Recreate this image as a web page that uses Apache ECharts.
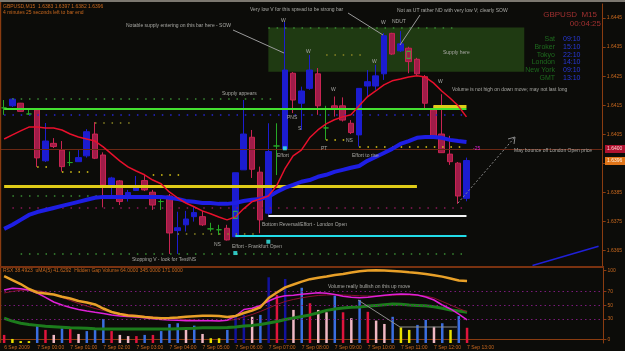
<!DOCTYPE html>
<html>
<head>
<meta charset="utf-8">
<title>GBPUSD M15</title>
<script src="https://cdn.jsdelivr.net/npm/echarts@6.0.0/dist/echarts.min.js"></script>
<style>
    html, body { margin: 0; padding: 0; background: #0c0c09; }
    #main { width: 625px; height: 351px; }
</style>
</head>
<body>
<div id="main"></div>
<script>
// time axis: one label every 4 bars (M15), 57 bars + empty right margin
var hourLabels = ['6 Sep 2009', '7 Sep 00:00', '7 Sep 01:00', '7 Sep 02:00', '7 Sep 03:00', '7 Sep 04:00', '7 Sep 05:00',
    '7 Sep 06:00', '7 Sep 07:00', '7 Sep 08:00', '7 Sep 09:00', '7 Sep 10:00', '7 Sep 11:00', '7 Sep 12:00', '7 Sep 13:00'];
var slotCount = 73;

// price ticks on the right axis
var priceTicks = [1.6365, 1.6375, 1.6385, 1.6395, 1.6405, 1.6415, 1.6425, 1.6435, 1.6445];
var oscTicks = [0, 30, 50, 70, 100];

// candles
var opens = [1.64141, 1.64148, 1.64157, 1.6412, 1.64134, 1.63959, 1.64019, 1.63996, 1.63953, 1.63956,
    1.63976, 1.64051, 1.63979, 1.6387, 1.6389, 1.6383, 1.63857, 1.63891, 1.63851, 1.63819,
    1.63838, 1.63719, 1.63739, 1.63767, 1.63767, 1.63725, 1.63722, 1.63727, 1.63698, 1.63928,
    1.6404, 1.6392, 1.63779, 1.6401, 1.63999, 1.6426, 1.64157, 1.64208, 1.64258, 1.64072,
    1.64148, 1.64148, 1.64088, 1.64048, 1.64216, 1.64216, 1.64258, 1.64397, 1.64337, 1.64346,
    1.64308, 1.64248, 1.64134, 1.64051, 1.63982, 1.63951, 1.6383];
var closes = [1.64141, 1.64171, 1.64129, 1.6412, 1.63969, 1.64027, 1.64008, 1.63939, 1.63953, 1.6397,
    1.64059, 1.63968, 1.63876, 1.639, 1.63819, 1.6385, 1.6387, 1.63859, 1.63807, 1.63819,
    1.63711, 1.63729, 1.63759, 1.63781, 1.63739, 1.63725, 1.63722, 1.63687, 1.63918, 1.64051,
    1.6393, 1.63756, 1.63991, 1.6401, 1.64271, 1.64168, 1.64199, 1.64271, 1.64148, 1.64072,
    1.64136, 1.64099, 1.64056, 1.64208, 1.64231, 1.64251, 1.64389, 1.64326, 1.64361, 1.643,
    1.64258, 1.64157, 1.64042, 1.63987, 1.63956, 1.63838, 1.6396];
var lows = [1.64117, 1.64144, 1.64127, 1.64117, 1.63938, 1.63955, 1.64003, 1.63922, 1.63941, 1.63955,
    1.6397, 1.63965, 1.63799, 1.63842, 1.63807, 1.63819, 1.63855, 1.63855, 1.6379, 1.6379,
    1.63639, 1.63639, 1.63716, 1.6375, 1.63735, 1.63716, 1.63704, 1.63685, 1.63697, 1.63928,
    1.639, 1.6371, 1.63773, 1.6391, 1.63996, 1.64123, 1.64065, 1.64203, 1.64117, 1.64031,
    1.64111, 1.64094, 1.64051, 1.64008, 1.6418, 1.64203, 1.64237, 1.64323, 1.64333, 1.6426,
    1.64254, 1.6414, 1.64041, 1.63986, 1.63945, 1.63811, 1.6382];
var highs = [1.64168, 1.64175, 1.64158, 1.6414, 1.64137, 1.64089, 1.64037, 1.64027, 1.63991, 1.63996,
    1.64068, 1.64092, 1.63988, 1.63904, 1.63893, 1.63859, 1.63907, 1.6391, 1.63859, 1.63838,
    1.63845, 1.63784, 1.63787, 1.63802, 1.63787, 1.63746, 1.63739, 1.63739, 1.63918, 1.64168,
    1.64065, 1.63939, 1.64088, 1.64088, 1.64436, 1.64264, 1.64214, 1.64323, 1.64278, 1.64148,
    1.6418, 1.64177, 1.64099, 1.64208, 1.64271, 1.64289, 1.64398, 1.64399, 1.64405, 1.64351,
    1.64313, 1.64254, 1.64148, 1.64188, 1.64045, 1.63955, 1.6397];

// moving averages on price
var maRed = [1.64034, 1.64048, 1.64062, 1.64075, 1.64075, 1.64072, 1.64072, 1.64065, 1.64051, 1.64041,
    1.64034, 1.64027, 1.64007, 1.63983, 1.63959, 1.63938, 1.63924, 1.63911, 1.63893, 1.6388,
    1.63852, 1.63832, 1.63814, 1.63801, 1.63787, 1.63777, 1.63766, 1.63756, 1.63766, 1.63794,
    1.63818, 1.63828, 1.63838, 1.63873, 1.63931, 1.63976, 1.63996, 1.64038, 1.64065, 1.64086,
    1.641, 1.6411, 1.64117, 1.64148, 1.64179, 1.64199, 1.6422, 1.64234, 1.6424, 1.64247,
    1.64251, 1.64247, 1.64227, 1.64199, 1.64175, 1.64148, 1.6411];
var maBlue = [1.63725, 1.63739, 1.63756, 1.63773, 1.63783, 1.6379, 1.63797, 1.63804, 1.63811, 1.63818,
    1.63825, 1.63832, 1.63835, 1.63835, 1.63835, 1.63835, 1.63835, 1.63835, 1.63835, 1.63835,
    1.63832, 1.63828, 1.63821, 1.63818, 1.63814, 1.63814, 1.63811, 1.63811, 1.63814, 1.63821,
    1.63825, 1.63828, 1.63835, 1.63852, 1.63866, 1.63876, 1.63887, 1.63893, 1.63904, 1.63911,
    1.63921, 1.63928, 1.63935, 1.63941, 1.63959, 1.63972, 1.63986, 1.64, 1.64017, 1.64027,
    1.64038, 1.64041, 1.64041, 1.64038, 1.64031, 1.64027, 1.64024];

// horizontal levels: [price, from bar, to bar, kind]
var dottedLevels = [
    [1.64417, 32, 55, 'green'], [1.64323, 39, 44, 'olive'], [1.64172, 1, 33, 'green'],
    [1.64119, 0, 56, 'blue'], [1.6409, 11, 16, 'olive'], [1.63939, 4, 6, 'yellow'],
    [1.6392, 7, 11, 'yellow'], [1.63911, 18, 22, 'yellow'], [1.64031, 39, 42, 'yellow'],
    [1.64008, 43, 56, 'yellow'], [1.63838, 1, 19, 'green'], [1.63799, 1, 56, 'purple'],
    [1.6371, 21, 31, 'olive'], [1.63639, 2, 56, 'green']
];
var solidLevels = [
    [1.64139, 0, 56, 'lime'], [1.6387, 0, 50, 'yellow'], [1.64148, 52, 56, 'yellow'],
    [1.63771, 32, 56, 'white'], [1.637, 28, 56, 'cyan']
];
var londonOpen = 1.6400;
var trendLine = [[64, 1.63599], [72, 1.63665]];
var supplyZone = [[32, 1.64417], [63, 1.64265]];
var effortMarks = [[34, 1.64002], [32, 1.63681], [28, 1.63642]];
var boxMarks = [[28, 1.63773], [49, 1.64323]];

// lower window: volume + oscillators
var volumes = [34, 17, 8, 8, 71, 55, 34, 62, 59, 38,
    50, 55, 101, 50, 34, 29, 29, 34, 34, 50,
    80, 83, 55, 73, 38, 20, 20, 55, 110, 118,
    110, 118, 276, 202, 269, 139, 232, 167, 139, 129,
    199, 129, 104, 181, 131, 94, 80, 110, 66, 55,
    76, 97, 68, 83, 55, 113, 64];
var volTypes = ['r', 'y', 'y', 'y', 'b', 'r', 'p', 'b', 'r', 'p',
    'b', 'b', 'b', 'r', 'p', 'p', 'r', 'b', 'r', 'b',
    'b', 'b', 'p', 'b', 'p', 'y', 'y', 'b', 'n', 'n',
    'p', 'b', 'n', 'r', 'n', 'p', 'b', 'r', 'p', 'p',
    'b', 'r', 'p', 'b', 'r', 'p', 'p', 'b', 'y', 'y',
    'b', 'b', 'p', 'b', 'y', 'b', 'r'];
var volAvg = [104, 92, 83, 78, 74, 70, 68, 66, 64, 63,
    62, 60, 59, 59, 59, 59, 59, 59, 59, 59,
    59, 60, 61, 62, 64, 64, 64, 65, 67, 71,
    74, 78, 84, 90, 99, 105, 111, 118, 127, 137,
    143, 147, 150, 151, 155, 158, 161, 164, 163, 160,
    158, 156, 152, 146, 139, 134, 129];
var goldLine = [92.3, 86.5, 80.7, 73.5, 68.4, 67, 65.5, 62.3, 59.7, 56.1,
    53.9, 51, 45.2, 40.1, 37.2, 35.1, 34.3, 32.9, 31.9, 31,
    31.4, 32.2, 33.3, 34.1, 34.8, 34.6, 34.3, 32.9, 34.3, 38.7,
    42.3, 47, 60.4, 68.4, 75.9, 80, 84.1, 87.7, 89.7, 91.7,
    93.8, 95.2, 97.4, 99.3, 100.1, 100.6, 100.3, 99.6, 98.8, 97.7,
    96.7, 95.2, 93.5, 91.4, 88.7, 85.8, 85.1];
var rsx = [72, 74.5, 73.8, 72, 67.7, 61.2, 54.6, 50.3, 46.7, 43.8,
    41.6, 39.7, 38, 35.8, 34.3, 33.5, 32.9, 31.7, 30.3, 29.3,
    28.6, 28, 27.5, 27.5, 27.5, 27.4, 27.1, 28.3, 34.3, 43.8,
    45.5, 49.6, 56.1, 61.2, 63.6, 64.5, 65.8, 67, 68, 67.2,
    65.5, 63, 61.4, 60.9, 61.4, 63, 64.5, 65.5, 66.2, 65.7,
    64.8, 61.9, 57.5, 50.3, 44.5, 37.2, 28.6];
var rsxMa = [67.7, 69.9, 71.6, 72, 71.3, 69.1, 65.5, 61.2, 56.8, 52.5,
    48.8, 45.2, 42.3, 40.1, 38, 36.5, 35.1, 33.9, 32.9, 31.7,
    30.7, 30, 29.3, 28.6, 28.1, 27.8, 27.7, 27.8, 29.3, 32.9,
    36.5, 40.9, 45.9, 51, 55.4, 58.3, 60.7, 62.6, 64.1, 64.8,
    65.1, 64.8, 64.3, 63.6, 63.3, 63.3, 63.6, 64.3, 64.8, 64.8,
    64.3, 63.3, 60.4, 55.4, 50.3, 45.2, 40.6];
var oscLevels = [70, 50, 30];

var sessions = [['Sat', '09:10'], ['Broker', '15:10'], ['Tokyo', '22:10'], ['London', '14:10'], ['New York', '09:10'], ['GMT', '13:10']];

// ---------------------------------------------------------------
var FONT = '"Liberation Sans", Arial, sans-serif';
var ORANGE = '#c8681e';
var AXIS = '#8a3c10';
var NOTE = '#a8a8a4';

var cats = [];
for (var i = 0; i < slotCount; i++) cats.push(String(i));

var candleData = opens.map(function (o, k) { return [o, closes[k], lows[k], highs[k]]; });

var levelStyle = {
    green: '#3a8c34', olive: '#8c8624', yellow: '#e0cc18', blue: '#2626d0', purple: '#8a1858',
    lime: '#44e030', white: '#f4f4f4', cyan: '#22dce8'
};
var levelData = [];
dottedLevels.forEach(function (l) {
    levelData.push([{coord: [l[1], l[0]], lineStyle: {color: levelStyle[l[3]], width: 1.5, type: [1.5, 6.8]}},
        {coord: [l[2], l[0]]}]);
});
solidLevels.forEach(function (l) {
    var w = l[3] === 'yellow' ? 3 : 2;
    levelData.push([{coord: [l[1], l[0]], lineStyle: {color: levelStyle[l[3]], width: w, type: 'solid'}},
        {coord: [l[2], l[0]]}]);
});
levelData.push({yAxis: londonOpen, lineStyle: {color: '#6a2814', width: 1, type: 'solid'}});
levelData.push([{coord: trendLine[0], lineStyle: {color: '#2020d8', width: 1.5, type: 'solid'}}, {coord: trendLine[1]}]);

var volColors = {y: '#e8e000', b: '#3a6ee0', n: '#12129c', r: '#e0143c', p: '#f0b8c4'};

// text and drawn notes
var graphics = [];
function txt(t, x, y, color, size, align, z) {
    graphics.push({
        type: 'text', x: x, y: y, z: z || 100, silent: true,
        style: {text: t, fill: color, font: size + 'px ' + FONT, align: align || 'left', verticalAlign: 'middle',
            textAlign: align || 'left', textVerticalAlign: 'middle'}
    });
}
function seg(pts, color, dash) {
    graphics.push({type: 'polyline', z: 100, silent: true, shape: {points: pts},
        style: {stroke: color, lineWidth: 1, fill: null, lineDash: dash || null}});
}
// frame
graphics.push({type: 'rect', z: 99, silent: true, shape: {x: 0, y: 0, width: 625, height: 2}, style: {fill: '#7c7870'}});
graphics.push({type: 'rect', z: 99, silent: true, shape: {x: 0, y: 2, width: 1.2, height: 341}, style: {fill: AXIS}});
graphics.push({type: 'rect', z: 99, silent: true, shape: {x: 0, y: 266, width: 604, height: 2}, style: {fill: '#7a3210'}});

txt('GBPUSD,M15  1.6383 1.6397 1.6382 1.6396', 3, 7, ORANGE, 5);
txt('4 minutes 25 seconds left to bar end', 3, 13, ORANGE, 5);
txt('GBPUSD  M15', 597, 15, '#a03030', 8, 'right');
txt('00:04:25', 601, 24, '#a03030', 8, 'right');
sessions.forEach(function (s, k) {
    txt(s[0], 555, 39 + k * 7.8, '#1e6a1e', 7, 'right');
    txt(s[1], 563, 39 + k * 7.8, '#2838d8', 7, 'left');
});

var notes = [
    ['Notable supply entering on this bar here - SOW', 126, 26],
    ['Very low V for this spread to be strong bar', 250, 10],
    ['Not as UT rather ND with very low V; clearly SOW', 397, 11],
    ['Supply here', 443, 53],
    ['Volume is not high on down move; may not last long', 452, 90],
    ['Supply appears', 222, 94],
    ['PNS', 287, 118], ['S', 298, 129], ['Effort', 277, 156], ['PT', 321, 149], ['NS', 346, 141],
    ['Effort to rise', 352, 156],
    ['Bottom Reversal/Effort - London Open', 262, 225],
    ['Effort - Frankfurt Open', 232, 247],
    ['NS', 214, 245],
    ['Stopping V - look for Test/NS', 132, 260],
    ['May bounce off London Open price', 514, 151],
    ['W', 281, 21], ['W', 306, 52], ['W', 331, 90], ['W', 372, 62], ['W', 381, 23], ['NDUT', 392, 22], ['W', 438, 82],
    ['Volume really bullish on this up move', 328, 287]
];
notes.forEach(function (n) { txt(n[0], n[1], n[2], NOTE, 5); });
txt('-25', 473, 149, '#e020d0', 5);
txt('RSX 38.4923  uMA(5) 41.6292  Hidden Gap Volume 64.0000 345.0000 171.0000', 3, 271, ORANGE, 5);

seg([[233, 30], [284, 53]], '#9a9a9a');
seg([[348, 13], [383, 35]], '#9a9a9a');
seg([[420, 15], [400, 45]], '#9a9a9a');
seg([[458, 203], [515, 137]], '#8a8a8a', [2, 2]);
seg([[508, 139], [515, 137], [514, 144]], '#8a8a8a');
seg([[358, 300], [400, 327], [457, 327]], '#8c8c8c');

// price tags
graphics.push({type: 'rect', z: 101, silent: true, shape: {x: 605, y: 145, width: 20, height: 8}, style: {fill: '#b01230'}});
txt('1.6400', 607, 149, '#ffd4d4', 5, 'left', 102);
graphics.push({type: 'rect', z: 101, silent: true, shape: {x: 605, y: 157, width: 20, height: 8}, style: {fill: '#e07418'}});
txt('1.6396', 607, 161, '#fff0e0', 5, 'left', 102);

var chart = echarts.init(document.getElementById('main'));
chart.setOption({
    animation: false,
    backgroundColor: '#0c0c09',
    grid: [
        {left: -2.45, width: 605.9, top: 4, height: 263},
        {left: -2.45, width: 605.9, top: 268, height: 75}
    ],
    xAxis: [
        {type: 'category', gridIndex: 0, data: cats, boundaryGap: true,
            axisLine: {show: false}, axisTick: {show: false}, axisLabel: {show: false}, splitLine: {show: false}},
        {type: 'category', gridIndex: 1, data: cats, boundaryGap: true,
            axisLine: {show: true, lineStyle: {color: AXIS, width: 1}},
            axisTick: {show: true, alignWithLabel: true, length: 2, lineStyle: {color: AXIS},
                interval: function (idx) { return idx % 4 === 0 && idx / 4 < hourLabels.length; }},
            axisLabel: {color: ORANGE, fontSize: 5, fontFamily: FONT, align: 'left', margin: 2,
                interval: function (idx) { return idx % 4 === 0 && idx / 4 < hourLabels.length; },
                formatter: function (v, idx) { return hourLabels[idx / 4] || ''; }},
            splitLine: {show: false}}
    ],
    yAxis: [
        {type: 'value', gridIndex: 0, position: 'right', min: 1.63594, max: 1.64498,
            axisLine: {show: true, lineStyle: {color: AXIS}},
            axisTick: {show: true, length: 3, customValues: priceTicks, lineStyle: {color: AXIS}},
            axisLabel: {customValues: priceTicks, color: ORANGE, fontSize: 5, fontFamily: FONT, margin: 4,
                formatter: function (v) { return v.toFixed(4); }},
            splitLine: {show: false}},
        {type: 'value', gridIndex: 1, position: 'right', min: -4.8, max: 103.9,
            axisLine: {show: true, lineStyle: {color: AXIS}},
            axisTick: {show: true, length: 3, customValues: oscTicks, lineStyle: {color: AXIS}},
            axisLabel: {customValues: oscTicks, color: ORANGE, fontSize: 5, fontFamily: FONT, margin: 4},
            splitLine: {show: false}},
        {type: 'value', gridIndex: 1, min: 0, max: 315, show: false}
    ],
    graphic: {elements: graphics},
    series: [
        {type: 'line', xAxisIndex: 0, yAxisIndex: 0, data: [], z: 0, silent: true,
            markArea: {silent: true, itemStyle: {color: '#1f3a12'},
                data: [[{coord: supplyZone[0]}, {coord: supplyZone[1]}]]}},
        {type: 'candlestick', xAxisIndex: 0, yAxisIndex: 0, data: candleData, barWidth: 6, z: 3,
            itemStyle: {color: '#1c1cd0', color0: '#a01c48', borderColor: '#1c1cd0', borderColor0: '#c82452',
                borderColorDoji: '#26a826', borderWidth: 1}},
        {type: 'line', xAxisIndex: 0, yAxisIndex: 0, data: [], z: 4, silent: true,
            markLine: {silent: true, symbol: ['none', 'none'], label: {show: false}, data: levelData}},
        {type: 'line', xAxisIndex: 0, yAxisIndex: 0, data: maBlue, showSymbol: false, z: 5,
            lineStyle: {color: '#1e1ee4', width: 4}},
        {type: 'line', xAxisIndex: 0, yAxisIndex: 0, data: maRed, showSymbol: false, z: 6,
            lineStyle: {color: '#e8102c', width: 1.5}},
        {type: 'scatter', xAxisIndex: 0, yAxisIndex: 0, data: effortMarks, symbol: 'rect', symbolSize: 4, z: 7,
            itemStyle: {color: '#38f0f0'}},
        {type: 'scatter', xAxisIndex: 0, yAxisIndex: 0, data: boxMarks, symbol: 'rect', symbolSize: [4, 7], z: 7,
            itemStyle: {color: 'rgba(0,0,0,0)', borderColor: '#34c034', borderWidth: 1}},

        {type: 'bar', xAxisIndex: 1, yAxisIndex: 2, data: volumes, barWidth: 2.5, z: 2,
            itemStyle: {color: function (p) { return volColors[volTypes[p.dataIndex]]; }}},
        {type: 'line', xAxisIndex: 1, yAxisIndex: 2, data: volAvg, showSymbol: false, z: 3,
            lineStyle: {color: '#1c7c1c', width: 3}},
        {type: 'line', xAxisIndex: 1, yAxisIndex: 1, data: rsxMa, showSymbol: false, z: 3,
            lineStyle: {color: '#8c1030', width: 1}},
        {type: 'line', xAxisIndex: 1, yAxisIndex: 1, data: rsx, showSymbol: false, z: 4,
            lineStyle: {color: '#e020d8', width: 1.5},
            markLine: {silent: true, symbol: ['none', 'none'], label: {show: false},
                lineStyle: {color: '#7a1a7a', width: 1, type: [1.5, 3]},
                data: oscLevels.map(function (v) { return {yAxis: v}; })}},
        {type: 'line', xAxisIndex: 1, yAxisIndex: 1, data: goldLine, showSymbol: false, z: 5,
            lineStyle: {color: '#e8a028', width: 2.5}}
    ]
});
</script>
</body>
</html>
